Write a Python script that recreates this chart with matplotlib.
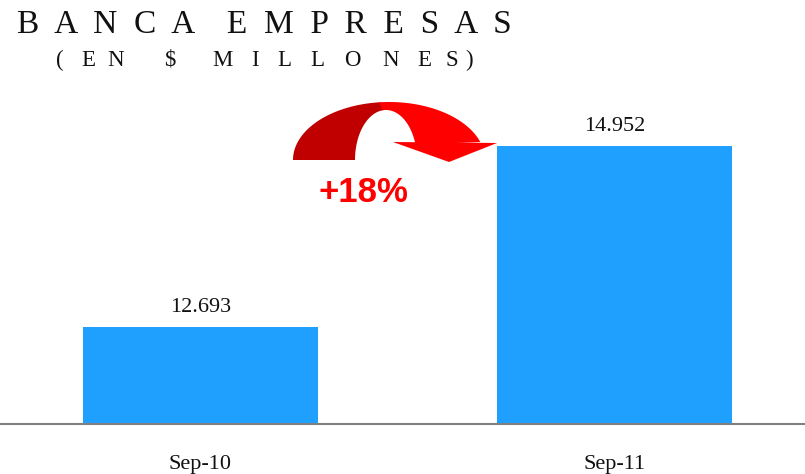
import matplotlib

matplotlib.use("Agg")

import matplotlib.pyplot as plt
import numpy as np
from matplotlib.patches import Polygon

# data
categories = ["Sep-10", "Sep-11"]
values = [12693, 14952]
value_labels = ["12.693", "14.952"]
growth_label = "+18%"

TITLE = "B  A  N  C  A    E  M  P  R  E  S  A  S"
SUBTITLE = "(EN$MILLONES)"
# left edge (px) of each spaced-out subtitle character
SUBTITLE_X = [56, 81, 107, 164, 212, 251, 277, 310, 344, 382, 417, 445, 465]

BAR_COLOR = "#1FA0FF"
SERIF = "Liberation Serif"

fig = plt.figure(figsize=(8.05, 4.74), dpi=100)
fig.patch.set_facecolor("white")

ax = fig.add_axes([0, 50 / 474, 1, 424 / 474])
x = np.arange(len(categories))
ax.bar(x, values, width=0.568, color=BAR_COLOR)
ax.set_xlim(-0.484, 1.460)
ax.set_ylim(11482, 16774)

for xi, v, lab in zip(x, values, value_labels):
    ax.annotate(lab, (xi, v), xytext=(0, 14), textcoords="offset points",
                ha="center", va="center", fontsize=16, family=SERIF, color="#111111")

ax.set_yticks([])
ax.set_xticks(x)
ax.set_xticklabels(categories, fontsize=16, family=SERIF, color="#111111")
ax.tick_params(axis="x", length=0, pad=22)
for s in ("top", "right", "left"):
    ax.spines[s].set_visible(False)
ax.spines["bottom"].set_color("#808080")
ax.spines["bottom"].set_linewidth(1.5)
ax.patch.set_alpha(0)

fig.text(17 / 805, 1 - 25 / 474, TITLE, fontsize=24, family=SERIF,
         ha="left", va="center", color="#111111")
for ch, px in zip(SUBTITLE, SUBTITLE_X):
    fig.text(px / 805, 1 - 60 / 474, ch, fontsize=16.5, family=SERIF,
             ha="left", va="center", color="#111111")

# curved arrow overlay in pixel coordinates
ov = fig.add_axes([0, 0, 1, 1])
ov.set_xlim(0, 805)
ov.set_ylim(474, 0)
ov.axis("off")


def band(a0, a1, n=60):
    t = np.radians(np.linspace(a0, a1, n))
    outer = np.column_stack([389 + 96 * np.cos(t), 160 - 58 * np.sin(t)])
    inner = np.column_stack([386 + 31 * np.cos(t[::-1]), 160 - 50 * np.sin(t[::-1])])
    return np.vstack([outer, inner])


ov.add_patch(Polygon(band(180, 95), closed=True, color="#C00000", lw=0))
ov.add_patch(Polygon(band(96, 18), closed=True, color="#FF0000", lw=0))
ov.add_patch(Polygon([[393, 142], [497, 143], [449, 162]], closed=True,
                     color="#FF0000", lw=0))

ov.text(363, 192, growth_label, fontsize=25, fontweight="bold",
        family="Liberation Sans", color="#FF0000", ha="center", va="center")

fig.savefig("out.png", dpi=100)
